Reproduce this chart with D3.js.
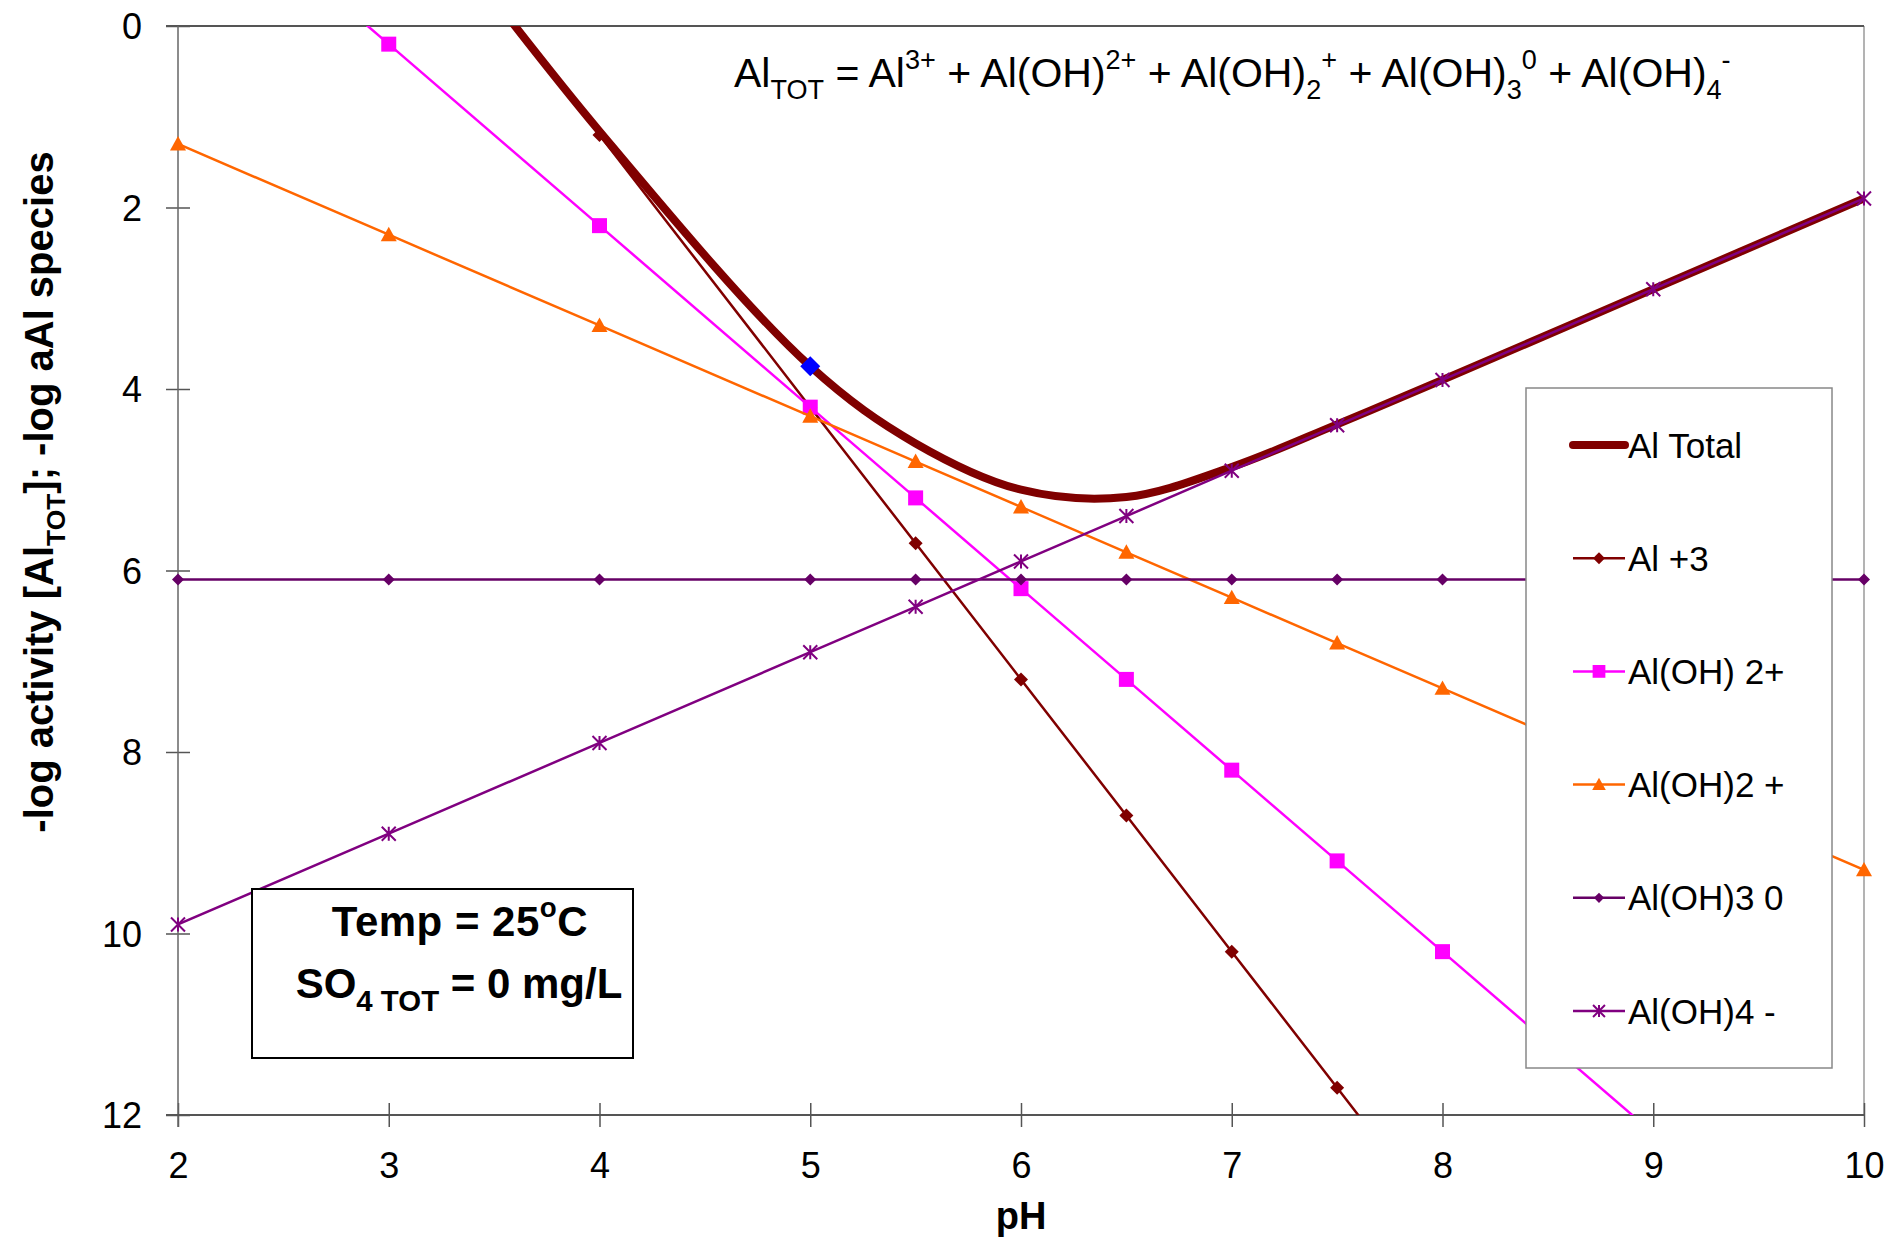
<!DOCTYPE html>
<html>
<head>
<meta charset="utf-8">
<script src="https://d3js.org/d3.v7.min.js"></script>
<style>
  body { margin: 0; background: #fff; }
  svg { display: block; }
  text { font-family: "Liberation Sans", Arial, sans-serif; fill: #000; }
</style>
</head>
<body>
<div id="chart"></div>
<script>
// pH values where the species were evaluated
var pH = [2, 3, 4, 5, 5.5, 6, 6.5, 7, 7.5, 8, 9, 10];

// -log activity of each species
var alTotal = [-4.8, -1.8, 1.16, 3.75, 4.6, 5.11, 5.19, 4.86, 4.39, 3.9, 2.9, 1.9];
var al3     = [-4.8, -1.8, 1.2, 4.2, 5.7, 7.2, 8.7, 10.2, 11.7, 13.2, 16.2, 19.2];
var alOH    = [-1.8, 0.2, 2.2, 4.2, 5.2, 6.2, 7.2, 8.2, 9.2, 10.2, 12.2, 14.2];
var alOH2   = [1.3, 2.3, 3.3, 4.3, 4.8, 5.3, 5.8, 6.3, 6.8, 7.3, 8.3, 9.3];
var alOH3   = [6.1, 6.1, 6.1, 6.1, 6.1, 6.1, 6.1, 6.1, 6.1, 6.1, 6.1, 6.1];
var alOH4   = [9.9, 8.9, 7.9, 6.9, 6.4, 5.9, 5.4, 4.9, 4.4, 3.9, 2.9, 1.9];

// highlighted point on the total curve
var markPH = 5, markVal = 3.75;

var xTicks = [2, 3, 4, 5, 6, 7, 8, 9, 10];
var yTicks = [0, 2, 4, 6, 8, 10, 12];

var W = 1892, H = 1240;
var svg = d3.select("#chart").append("svg")
  .attr("width", W).attr("height", H);

var x = d3.scaleLinear().domain([2, 10]).range([178, 1864]);
var y = d3.scaleLinear().domain([0, 12]).range([26, 1115]);

svg.append("defs").append("clipPath").attr("id", "plot")
  .append("rect")
  .attr("x", x(2)).attr("y", y(0))
  .attr("width", x(10) - x(2)).attr("height", y(12) - y(0));

// plot frame
svg.append("line").attr("x1", x(10)).attr("x2", x(10)).attr("y1", y(0)).attr("y2", y(12))
  .attr("stroke", "#9a9a9a").attr("stroke-width", 1.5);
svg.append("line").attr("x1", x(2) - 12).attr("x2", x(10)).attr("y1", y(0)).attr("y2", y(0))
  .attr("stroke", "#555").attr("stroke-width", 2);

// axes
var gx = svg.append("g").attr("transform", "translate(0," + y(12) + ")")
  .call(d3.axisBottom(x).tickValues(xTicks).tickSize(12).tickFormat(d3.format("d")));
gx.select(".domain").remove();
gx.selectAll(".tick line").attr("y1", -12).attr("y2", 12).attr("stroke", "#555").attr("stroke-width", 1.5);
gx.selectAll(".tick text").attr("y", 63).attr("dy", 0)
  .style("font-size", "36px").style("font-family", "'Liberation Sans', Arial, sans-serif");

var gy = svg.append("g").attr("transform", "translate(" + x(2) + ",0)")
  .call(d3.axisLeft(y).tickValues(yTicks).tickSize(12).tickFormat(d3.format("d")));
gy.select(".domain").remove();
gy.selectAll(".tick line").attr("x1", -12).attr("x2", 12).attr("stroke", "#555").attr("stroke-width", 1.5);
gy.selectAll(".tick text").attr("x", -36).attr("dy", "0.36em")
  .style("font-size", "36px").style("font-family", "'Liberation Sans', Arial, sans-serif");

svg.append("line").attr("x1", x(2)).attr("x2", x(2)).attr("y1", y(0)).attr("y2", y(12) + 12)
  .attr("stroke", "#666").attr("stroke-width", 1.5);
svg.append("line").attr("x1", x(2) - 12).attr("x2", x(10)).attr("y1", y(12)).attr("y2", y(12))
  .attr("stroke", "#555").attr("stroke-width", 2);

// series
var series = [
  { name: "Al Total",   vals: alTotal, color: "#800000", width: 8,   marker: null,       smooth: true },
  { name: "Al +3",      vals: al3,     color: "#800000", width: 2.5, marker: "diamond",  size: 14 },
  { name: "Al(OH) 2+",  vals: alOH,    color: "#FF00FF", width: 2.5, marker: "square",   size: 15 },
  { name: "Al(OH)2 +",  vals: alOH2,   color: "#FF6600", width: 2.5, marker: "triangle", size: 16 },
  { name: "Al(OH)3 0",  vals: alOH3,   color: "#660066", width: 2.5, marker: "diamond",  size: 12 },
  { name: "Al(OH)4 -",  vals: alOH4,   color: "#800080", width: 2.5, marker: "star",     size: 14 }
];

function markerPath(type, s) {
  var h = s / 2;
  if (type === "diamond") return "M0," + (-h) + "L" + h + ",0L0," + h + "L" + (-h) + ",0Z";
  if (type === "square") return "M" + (-h) + "," + (-h) + "h" + s + "v" + s + "h" + (-s) + "Z";
  if (type === "triangle") return "M0," + (-h) + "L" + h + "," + (h * 0.8) + "L" + (-h) + "," + (h * 0.8) + "Z";
  if (type === "star") return "M" + (-h) + "," + (-h) + "L" + h + "," + h + "M" + (-h) + "," + h + "L" + h + "," + (-h) + "M0," + (-h) + "L0," + h;
  return "";
}

var plotG = svg.append("g");
series.forEach(function(s) {
  var pts = pH.map(function(p, i) { return [p, s.vals[i]]; });
  var line = d3.line()
    .x(function(d) { return x(d[0]); })
    .y(function(d) { return y(d[1]); })
    .curve(s.smooth ? d3.curveCatmullRom : d3.curveLinear);
  plotG.append("path").datum(pts)
    .attr("clip-path", "url(#plot)")
    .attr("d", line)
    .attr("fill", "none")
    .attr("stroke", s.color)
    .attr("stroke-width", s.width)
    .attr("stroke-linejoin", "round");
  if (s.marker) {
    plotG.selectAll(null)
      .data(pts.filter(function(d) { return d[1] >= 0 && d[1] <= 12; }))
      .enter().append("path")
      .attr("transform", function(d) { return "translate(" + x(d[0]) + "," + y(d[1]) + ")"; })
      .attr("d", markerPath(s.marker, s.size))
      .attr("fill", s.marker === "star" ? "none" : s.color)
      .attr("stroke", s.color)
      .attr("stroke-width", s.marker === "star" ? 2 : 0);
  }
});

plotG.append("path")
  .attr("transform", "translate(" + x(markPH) + "," + y(markVal) + ")")
  .attr("d", markerPath("diamond", 20))
  .attr("fill", "#0000FF");

// text with sub / superscripts
function rich(t, parts, small) {
  var shift = 0;
  parts.forEach(function(p) {
    var target = p[1] === "sub" ? 0.3 : p[1] === "sup" ? -0.45 : 0;
    var ts = t.append("tspan").text(p[0]);
    var fs = parseFloat(t.style("font-size"));
    var dy = (target - shift) * fs;
    if (dy !== 0) ts.attr("dy", dy);
    if (p[1] !== "n") ts.style("font-size", (small || 0.66) + "em");
    shift = target;
  });
}

// equation
var eq = svg.append("text")
  .attr("x", 734).attr("y", 87)
  .style("font-family", "'Liberation Sans Narrow', 'Arial Narrow', sans-serif")
  .style("font-size", "41px");
rich(eq, [["Al", "n"], ["TOT", "sub"], [" = Al", "n"], ["3+", "sup"], [" + Al(OH)", "n"], ["2+", "sup"],
  [" + Al(OH)", "n"], ["2", "sub"], ["+", "sup"], [" + Al(OH)", "n"], ["3", "sub"], ["0", "sup"],
  [" + Al(OH)", "n"], ["4", "sub"], ["-", "sup"]]);

// axis titles
svg.append("text")
  .attr("x", x(6)).attr("y", 1229)
  .attr("text-anchor", "middle")
  .style("font-size", "38px").style("font-weight", "bold")
  .text("pH");

var yt = svg.append("text")
  .attr("transform", "translate(53,492) rotate(-90)")
  .attr("text-anchor", "middle")
  .style("font-size", "40px").style("font-weight", "bold");
rich(yt, [["-log activity [Al", "n"], ["TOT", "sub"], ["]; -log aAl species", "n"]]);

// conditions box
svg.append("rect")
  .attr("x", 252).attr("y", 889).attr("width", 381).attr("height", 169)
  .attr("fill", "#fff").attr("stroke", "#000").attr("stroke-width", 2);
var t1 = svg.append("text").attr("x", 460).attr("y", 936).attr("text-anchor", "middle")
  .style("font-size", "42px").style("font-weight", "bold").style("letter-spacing", "0.5px");
rich(t1, [["Temp = 25", "n"], ["o", "sup"], ["C", "n"]]);
var t2 = svg.append("text").attr("x", 459).attr("y", 998).attr("text-anchor", "middle")
  .style("font-size", "42px").style("font-weight", "bold");
rich(t2, [["SO", "n"], ["4 TOT", "sub"], [" = 0 mg/L", "n"]], 0.7);

// legend
var lg = svg.append("g");
lg.append("rect")
  .attr("x", 1526).attr("y", 388).attr("width", 306).attr("height", 680)
  .attr("fill", "#fff").attr("stroke", "#888").attr("stroke-width", 1.5);
var legendY = d3.scalePoint().domain(series.map(function(s) { return s.name; })).range([445, 1011]);
series.forEach(function(s) {
  var cy = legendY(s.name);
  lg.append("line")
    .attr("x1", 1573).attr("x2", 1625).attr("y1", cy).attr("y2", cy)
    .attr("stroke", s.color).attr("stroke-width", s.width).attr("stroke-linecap", s.smooth ? "round" : "butt");
  if (s.marker) {
    lg.append("path")
      .attr("transform", "translate(1599," + cy + ")")
      .attr("d", markerPath(s.marker, s.size * 0.85))
      .attr("fill", s.marker === "star" ? "none" : s.color)
      .attr("stroke", s.color)
      .attr("stroke-width", s.marker === "star" ? 2 : 0);
  }
  lg.append("text")
    .attr("x", 1628).attr("y", cy).attr("dy", "0.36em")
    .style("font-size", "35px")
    .text(s.name);
});
</script>
</body>
</html>
